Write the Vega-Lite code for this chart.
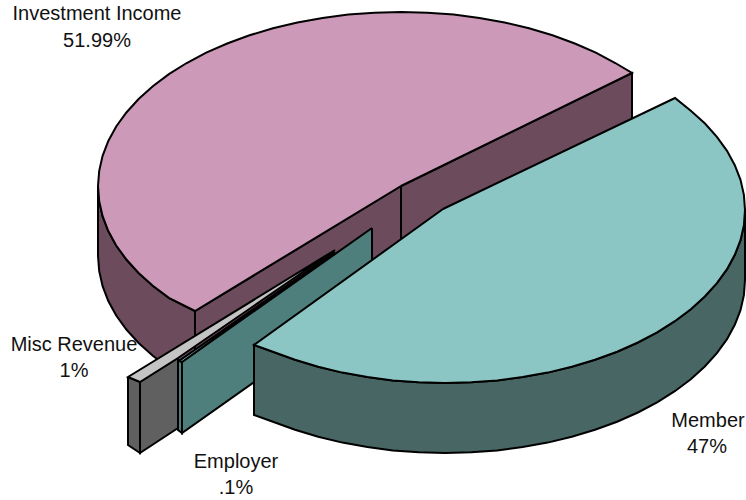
{"$schema":"https://vega.github.io/schema/vega-lite/v6.json","autosize":{"type":"none"},"width":746,"height":500,"padding":0,"background":"white","view":{"stroke":null},
"datasets":{"labels":[
{"t":"Investment Income","x":97,"y":14},{"t":"51.99%","x":97,"y":41},
{"t":"Misc Revenue","x":74,"y":345},{"t":"1%","x":74,"y":371},
{"t":"Member","x":708,"y":421},{"t":"47%","x":707,"y":447},
{"t":"Employer","x":236,"y":462},{"t":".1%","x":236,"y":488}],
"arcs":[
{"p":"a1 Investment outer wall","v":[[195,311],[168.9,297.9],[152.8,285.8],[138.6,273],[126.4,259.5],[116.2,245.5],[108.3,231],[102.6,216.2],[99.2,201.2],[98,186],[98,256],[99.2,271.2],[102.6,286.2],[108.3,301],[116.2,315.5],[126.4,329.5],[138.6,343],[152.8,355.8],[168.9,367.9],[195,381],[195,311]]},
{"p":"a2 Investment left wall","v":[[401,186],[195,311],[195,381],[401,256],[401,186]]},
{"p":"a3 Investment right wall","v":[[401,186],[632,73],[632,143],[401,256],[401,186]]},
{"p":"a4 Investment top","v":[[401,186],[195,311],[168.9,297.9],[152.8,285.8],[138.6,273],[126.4,259.5],[116.2,245.5],[108.3,231],[102.6,216.2],[99.2,201.2],[98,186],[99.2,170.8],[102.6,155.8],[108.3,141],[116.2,126.5],[126.4,112.5],[138.6,99],[152.8,86.2],[168.9,74.1],[186.7,63],[206.2,52.7],[227.2,43.5],[249.5,35.3],[273,28.3],[297.4,22.5],[322.6,17.9],[348.3,14.6],[374.6,12.7],[401,12],[427.4,12.7],[453.7,14.6],[479.4,17.9],[504.6,22.5],[529,28.3],[552.5,35.3],[574.8,43.5],[595.8,52.7],[615.3,63],[632,73],[401,186]]},
{"p":"b1 Employer wall","v":[[372,228],[182,362],[182,433],[372,299],[372,228]]},
{"p":"b2 Employer end","v":[[178,360],[182,362],[182,433],[178,430],[178,360]]},
{"p":"c1 Misc end wall","v":[[128,377],[140,382],[140,453],[128,445],[128,377]]},
{"p":"c2 Misc side wall","v":[[140,382],[178,358],[178,428],[140,453],[140,382]]},
{"p":"c3 Misc top","v":[[335,250],[128,377],[140,382],[178,358],[335,250]]},
{"p":"d Employer top","v":[[335,252],[179,361],[182,362],[335,252]]},
{"p":"e1 Member wall","v":[[745,210],[743.9,225.1],[740.5,240.1],[734.8,254.8],[727,269.2],[716.9,283.1],[704.8,296.5],[690.8,309.2],[674.8,321.2],[657.1,332.3],[637.9,342.5],[617.1,351.7],[595,359.8],[571.8,366.8],[547.6,372.6],[522.6,377.1],[497.2,380.4],[471.2,382.3],[445,383],[418.8,382.3],[392.8,380.4],[367.4,377.1],[342.4,372.6],[318.2,366.8],[295,359.8],[272.9,351.7],[254,345],[254,415],[272.9,421.7],[295,429.8],[318.2,436.8],[342.4,442.6],[367.4,447.1],[392.8,450.4],[418.8,452.3],[445,453],[471.2,452.3],[497.2,450.4],[522.6,447.1],[547.6,442.6],[571.8,436.8],[595,429.8],[617.1,421.7],[637.9,412.5],[657.1,402.3],[674.8,391.2],[690.8,379.2],[704.8,366.5],[716.9,353.1],[727,339.2],[734.8,324.8],[740.5,310.1],[743.9,295.1],[745,280],[745,210]]},
{"p":"e2 Member top","v":[[443,209],[675,98],[690.8,110.8],[705,123.5],[716.9,136.9],[727,150.8],[734.8,165.2],[740.5,179.9],[743.9,194.9],[745,210],[743.9,225.1],[740.5,240.1],[734.8,254.8],[727,269.2],[716.9,283.1],[704.8,296.5],[690.8,309.2],[674.8,321.2],[657.1,332.3],[637.9,342.5],[617.1,351.7],[595,359.8],[571.8,366.8],[547.6,372.6],[522.6,377.1],[497.2,380.4],[471.2,382.3],[445,383],[418.8,382.3],[392.8,380.4],[367.4,377.1],[342.4,372.6],[318.2,366.8],[295,359.8],[272.9,351.7],[254,345],[443,209]]}
]},
"data":{"name":"arcs"},
"layer":[
{"transform":[{"flatten":["v"]},{"window":[{"op":"row_number","as":"i"}],"groupby":["p"]}],
"mark":{"type":"line","stroke":"black","strokeWidth":2,"clip":false},
"encoding":{
"x":{"field":"v[0]","type":"quantitative","axis":null,"scale":{"domain":[0,746],"nice":false,"zero":false}},
"y":{"field":"v[1]","type":"quantitative","axis":null,"scale":{"domain":[0,500],"nice":false,"zero":false,"reverse":true}},
"order":{"field":"i","type":"quantitative"},
"detail":{"field":"p"},
"fill":{"field":"p","type":"nominal","legend":null,"scale":{"domain":["a1 Investment outer wall","a2 Investment left wall","a3 Investment right wall","a4 Investment top","b1 Employer wall","b2 Employer end","c1 Misc end wall","c2 Misc side wall","c3 Misc top","d Employer top","e1 Member wall","e2 Member top"],"range":["#6c4b5d","#6c4b5d","#6c4b5d","#cc99b8","#4f7f7c","#4f7f7c","#606060","#606060","#c4c4c4","#8cd5d5","#476664","#8cc6c4"]}}
}},
{"data":{"name":"labels"},"mark":{"type":"text","font":"Liberation Sans","fontSize":20,"align":"center","baseline":"middle","color":"#111"},
"encoding":{"x":{"field":"x","type":"quantitative"},"y":{"field":"y","type":"quantitative"},"text":{"field":"t"}}}
]}
